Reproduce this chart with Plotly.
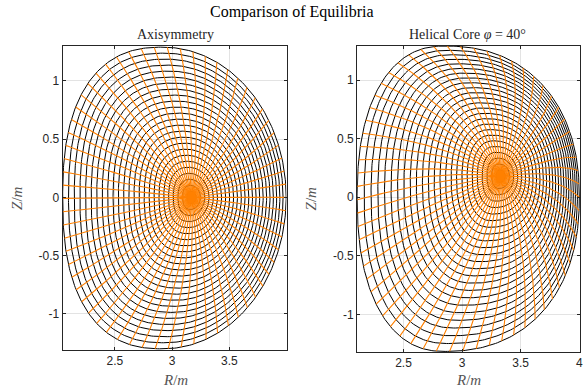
import numpy as np
import plotly.graph_objects as go

# ---- equilibrium descriptions (left: axisymmetric, right: helical core) ----
panel_titles = ["Axisymmetry", "Helical Core <i>φ</i> = 40°"]
main_title = "Comparison of Equilibria"

bnd_r_in = [2.045, 2.105]      # inboard midplane R of last closed surface
bnd_r_out = [3.995, 4.000]     # outboard midplane R
bnd_r_apex = [2.92, 2.85]      # R at the top / bottom of the boundary
bnd_z_top = [1.290, 1.290]
bnd_z_bot = [-1.300, -1.315]
shape_exp_in = [2.45, 2.3]     # superellipse exponent, inboard half
shape_exp_out = [2.0, 2.25]    # superellipse exponent, outboard half
axis_r = [3.17, 3.33]          # magnetic axis position
axis_z = [0.00, 0.18]

n_surfaces = 25                # flux surfaces drawn (including boundary)
n_theta = 64                   # poloidal angle lines

x_ranges = [[2.045, 3.998], [2.105, 4.006]]
y_ranges = [[-1.31, 1.30], [-1.32, 1.29]]
x_tickvals = [[2.5, 3.0, 3.5], [2.5, 3.0, 3.5, 4.0]]
x_ticktext = [["2.5", "3", "3.5"], ["2.5", "3", "3.5", "4"]]
y_tickvals = [-1.0, -0.5, 0.0, 0.5, 1.0]
y_ticktext = ["-1", "-0.5", "0", "0.5", "1"]

BLACK = "#000000"
ORANGE = "#ff8000"
SUB = 6  # boundary points per theta line spacing


def boundary(k):
    """Equal-arc-length samples of the boundary of panel k."""
    t = np.linspace(0, 2 * np.pi, 4001)
    c, s = np.cos(t), np.sin(t)
    n = np.where(c >= 0, shape_exp_out[k], shape_exp_in[k])
    x = np.sign(c) * np.abs(c) ** (2 / n)
    y = np.sign(s) * np.abs(s) ** (2 / n)
    half_w = np.where(c >= 0, bnd_r_out[k] - bnd_r_apex[k], bnd_r_apex[k] - bnd_r_in[k])
    half_h = np.where(s >= 0, bnd_z_top[k], -bnd_z_bot[k])
    R = bnd_r_apex[k] + x * half_w
    Z = y * half_h
    seg = np.hypot(np.diff(R), np.diff(Z))
    L = np.concatenate([[0], np.cumsum(seg)])
    m = n_theta * SUB
    target = np.linspace(0, L[-1], m + 1)
    return np.interp(target, L, R), np.interp(target, L, Z)


def grid(k):
    Rb, Zb = boundary(k)
    r0 = 0.5 * (bnd_r_in[k] + bnd_r_out[k])
    z0 = 0.5 * (bnd_z_top[k] + bnd_z_bot[k])
    dr, dz = axis_r[k] - r0, axis_z[k] - z0

    def point(rho, Rb_, Zb_):
        f = 1 - rho ** 2
        return (r0 + dr * f + rho * (Rb_ - r0), z0 + dz * f + rho * (Zb_ - z0))

    sx, sy = [], []
    for i in range(1, n_surfaces + 1):
        rho = i / n_surfaces
        R, Z = point(rho, Rb, Zb)
        sx += list(R) + [None]
        sy += list(Z) + [None]

    tx, ty = [], []
    rho = np.linspace(0, 1, 120)
    for j in range(n_theta):
        idx = j * SUB
        R, Z = point(rho, Rb[idx], Zb[idx])
        tx += list(R) + [None]
        ty += list(Z) + [None]
    return sx, sy, tx, ty


fig = go.Figure()
for k in range(2):
    sx, sy, tx, ty = grid(k)
    xa, ya = ("x", "y") if k == 0 else ("x2", "y2")
    # flux surfaces first, constant-angle lines drawn over them
    fig.add_trace(go.Scatter(x=sx, y=sy, mode="lines", xaxis=xa, yaxis=ya,
                             line=dict(color=BLACK, width=1), hoverinfo="skip",
                             showlegend=False))
    fig.add_trace(go.Scatter(x=tx, y=ty, mode="lines", xaxis=xa, yaxis=ya,
                             line=dict(color=ORANGE, width=1.1), hoverinfo="skip",
                             showlegend=False))

W, H = 586, 387
x_domains = [[63 / W, 288 / W], [359 / W, 583 / W]]
y_domains = [[1 - 350 / H, 1 - 46 / H], [1 - 352 / H, 1 - 46 / H]]

axis_common = dict(showline=True, linecolor="#262626", linewidth=1, mirror="ticks",
                   ticks="inside", ticklen=3, tickcolor="#262626",
                   showgrid=True, gridcolor="#e3e3e3", gridwidth=1,
                   zeroline=False, tickfont=dict(family="Liberation Sans", size=12, color="#262626"))

layout = dict(width=W, height=H, margin=dict(l=0, r=0, t=0, b=0),
              paper_bgcolor="white", plot_bgcolor="white")
for k in range(2):
    sfx = "" if k == 0 else "2"
    layout["xaxis" + sfx] = dict(axis_common, domain=x_domains[k], range=x_ranges[k],
                                 tickmode="array", tickvals=x_tickvals[k], ticktext=x_ticktext[k],
                                 anchor="y" + sfx)
    layout["yaxis" + sfx] = dict(axis_common, domain=y_domains[k], range=y_ranges[k],
                                 tickmode="array", tickvals=y_tickvals, ticktext=y_ticktext,
                                 anchor="x" + sfx)
fig.update_layout(**layout)

serif = "Liberation Serif"
ann = [
    dict(text=main_title, x=0.5, y=1 - 12 / H, font=dict(family=serif, size=16, color="#000000")),
    dict(text=panel_titles[0], x=176 / W, y=1 - 35 / H, font=dict(family=serif, size=14, color="#262626")),
    dict(text=panel_titles[1], x=470 / W, y=1 - 34 / H, font=dict(family=serif, size=14, color="#262626")),
    dict(text="<i>R</i>/<i>m</i>", x=176 / W, y=1 - 380 / H, font=dict(family=serif, size=15, color="#555555")),
    dict(text="<i>R</i>/<i>m</i>", x=471 / W, y=1 - 380 / H, font=dict(family=serif, size=15, color="#555555")),
    dict(text="<i>Z</i>/<i>m</i>", x=17 / W, y=1 - 198 / H, textangle=-90,
         font=dict(family=serif, size=15, color="#555555")),
    dict(text="<i>Z</i>/<i>m</i>", x=313 / W, y=1 - 198 / H, textangle=-90,
         font=dict(family=serif, size=15, color="#555555")),
]
for a in ann:
    a.update(xref="paper", yref="paper", showarrow=False, xanchor="center", yanchor="middle")
fig.update_layout(annotations=ann)

fig.write_html("out.html")
